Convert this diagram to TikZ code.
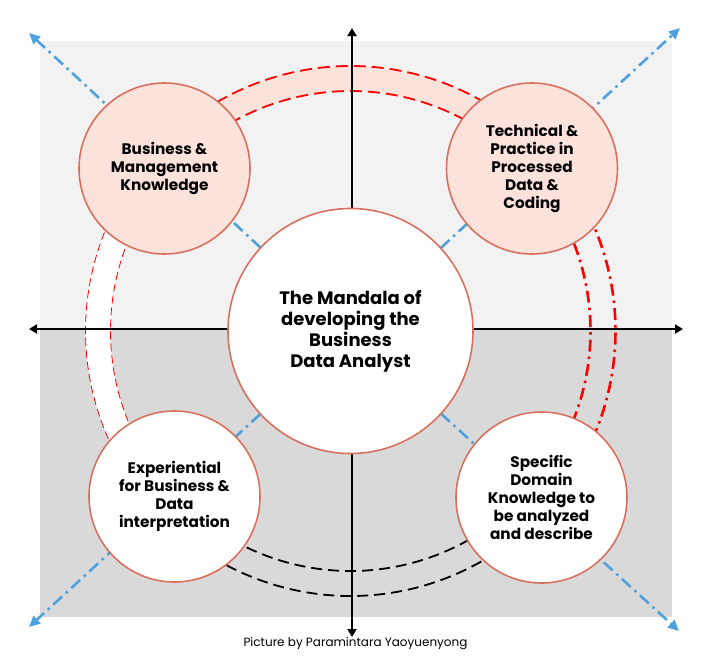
\documentclass[tikz,border=0pt]{standalone}
\usepackage{fontspec}
\setmainfont{Poppins}
\usetikzlibrary{arrows.meta,backgrounds,positioning}
\definecolor{ringred}{HTML}{D9705F}
\definecolor{ringpink}{HTML}{FBE3DC}
\definecolor{topgray}{HTML}{F2F2F2}
\definecolor{botgray}{HTML}{D9D9D9}
\definecolor{diagblue}{HTML}{4EA1DD}
\tikzset{
  ringnode/.style = {align=center, inner sep=0pt, text centered, circle,
    draw=ringred, line width=1.6pt, minimum size=171pt,
    font=\bfseries\fontsize{15.3}{17.8}\selectfont},% petit cercle
  ring_p/.style = {ringnode, fill=ringpink},% cercle rose
  ring_w/.style = {ringnode, fill=white},% cercle blanc
  ring_c/.style = {ringnode, fill=white, minimum size=245pt,
    font=\bfseries\fontsize{18}{21}\selectfont},% cercle central
  diag/.style = {diagblue, line width=2.6pt,
    dash pattern=on 12pt off 5pt on 2.5pt off 5pt,
    -{Triangle[length=11pt,width=10pt]}},% diagonale bleue
  axis/.style = {black, line width=2.8pt,
    {Triangle[length=8pt,width=9pt]}-{Triangle[length=8pt,width=9pt]}}
}

\begin{document}
\begin{tikzpicture}[x=1pt,y=-1pt]
\useasboundingbox (0,0) rectangle (705,670);
\node [ring_c] (M) at (350.5,331) {The Mandala of\\developing the\\Business\\Data Analyst};
\node [ring_p] (BM) at (164.5,168.5) {Business \&\\Management\\Knowledge};
\node [ring_p] (TP) at (532,168.5) {Technical \&\\Practice in\\Processed\\Data \&\\Coding};
\node [ring_w] (EX) at (174.5,496.5) {Experiential\\for Business \&\\Data\\interpretation};
\node [ring_w] (SD) at (541.5,497.5) {Specific\\Domain\\Knowledge to\\be analyzed\\and describe};
\node [font=\fontsize{12}{14}\selectfont, anchor=base] (cap) at (355.5,646) {Picture by Paramintara Yaoyuenyong};
\coordinate (nw) at (29,33);
\coordinate (ne) at (680,28);
\coordinate (sw) at (29,627);
\coordinate (se) at (679,631);
\coordinate (up) at (352,28);
\coordinate (dn) at (352,637);
\coordinate (lt) at (29,329);
\coordinate (rt) at (683,329);
\begin{scope}[on background layer]
  \fill [topgray] (40,41) rectangle (672,330);
  \fill [botgray] (40,330) rectangle (672,617);
  \fill [ringpink] (M.center) ++(40:265pt) arc[start angle=40, end angle=140, radius=265pt]
    -- ++(140:-25pt) arc[start angle=140, end angle=40, radius=240pt] -- cycle;
  \fill [white] (M.center) ++(140:265pt) arc[start angle=140, end angle=220, radius=265pt]
    -- ++(220:-25pt) arc[start angle=220, end angle=140, radius=240pt] -- cycle;
  \foreach \r in {240,265} {
    \draw [red, line width=1.8pt, dash pattern=on 12pt off 6pt]
      (M.center) ++(40:\r pt) arc[start angle=40, end angle=140, radius=\r pt];
    \draw [red, line width=0.8pt, dash pattern=on 8pt off 4pt]
      (M.center) ++(140:\r pt) arc[start angle=140, end angle=220, radius=\r pt];
    \draw [black, line width=1.8pt, dash pattern=on 11pt off 6pt]
      (M.center) ++(220:\r pt) arc[start angle=220, end angle=320, radius=\r pt];
    \draw [red, line width=2.6pt, dash pattern=on 12pt off 5pt on 2.5pt off 5pt]
      (M.center) ++(-40:\r pt) arc[start angle=-40, end angle=40, radius=\r pt];
  }
  \foreach \c in {nw,ne,sw,se}
    \draw [diag] (M.center) -- (\c);
  \draw [axis] (dn) -- (up);
  \draw [axis] (lt) -- (rt);
\end{scope}
\end{tikzpicture}
\end{document}
